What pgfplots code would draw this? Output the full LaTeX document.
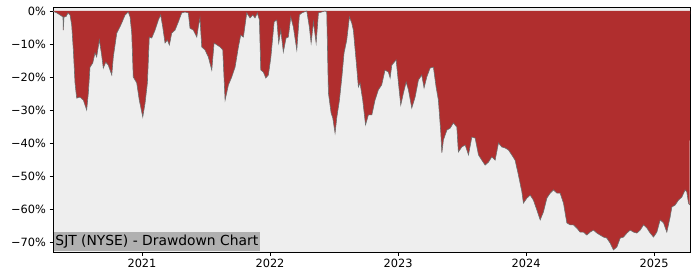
\documentclass[border=0pt]{standalone}
\usepackage{fontspec}
\setmainfont{DejaVu Sans}
\usepackage{pgfplots}
\usepackage{pgfplotstable}
\pgfplotsset{compat=1.18}
\definecolor{ddred}{RGB}{176,46,46}
\definecolor{bgcol}{RGB}{238,238,238}
\definecolor{lblgray}{RGB}{176,176,176}
\definecolor{edgegray}{RGB}{110,110,110}
\pgfplotstableread{
x y
2020.305 0
2020.313 -0.2
2020.336 -0.6
2020.360 -1.2
2020.383 -1.8
2020.385 -5.8
2020.391 -1.8
2020.407 -1.7
2020.422 -0.6
2020.438 -1.2
2020.451 -4.2
2020.464 -11.8
2020.477 -21.8
2020.490 -26.4
2020.516 -26.1
2020.542 -27.0
2020.568 -30.0
2020.581 -24.8
2020.594 -17.0
2020.615 -15.8
2020.633 -12.7
2020.646 -13.9
2020.667 -8.8
2020.685 -13.3
2020.698 -17.3
2020.717 -15.5
2020.737 -16.4
2020.764 -19.4
2020.776 -13.9
2020.803 -6.7
2020.828 -4.8
2020.842 -3.6
2020.868 -1.2
2020.893 -0.3
2020.907 -1.8
2020.920 -6.7
2020.932 -20.0
2020.959 -21.8
2020.979 -27.0
2021.006 -32.1
2021.024 -27.9
2021.042 -21.8
2021.057 -7.9
2021.076 -8.2
2021.102 -5.8
2021.128 -2.7
2021.146 -1.2
2021.162 -4.8
2021.180 -9.7
2021.198 -8.8
2021.214 -10.3
2021.232 -6.7
2021.258 -5.8
2021.284 -3.3
2021.310 -0.6
2021.336 -0.3
2021.362 -0.6
2021.375 -5.2
2021.401 -5.8
2021.428 -7.9
2021.440 -4.8
2021.453 -2.1
2021.467 -10.9
2021.492 -11.8
2021.518 -13.9
2021.545 -17.9
2021.563 -9.7
2021.586 -10.3
2021.610 -10.9
2021.631 -11.8
2021.649 -27.0
2021.675 -22.4
2021.701 -20.0
2021.727 -17.0
2021.753 -10.9
2021.771 -7.3
2021.792 -7.9
2021.818 -0.6
2021.844 -2.1
2021.865 -1.2
2021.883 -2.1
2021.901 -0.6
2021.917 -2.7
2021.928 -17.9
2021.948 -18.5
2021.967 -20.3
2021.987 -19.4
2022.006 -14.2
2022.032 -3.3
2022.053 -2.7
2022.068 -9.7
2022.084 -5.8
2022.104 -12.4
2022.125 -8.2
2022.143 -7.9
2022.162 -1.8
2022.182 -4.8
2022.209 -11.8
2022.229 -1.2
2022.248 -0.6
2022.266 -0.3
2022.287 0
2022.307 -4.8
2022.321 -9.7
2022.339 -3.3
2022.360 -9.7
2022.378 -0.6
2022.404 -0.3
2022.430 0
2022.443 -0.3
2022.456 -24.8
2022.477 -30.9
2022.490 -32.4
2022.508 -37.0
2022.522 -32.1
2022.542 -27.0
2022.561 -20.0
2022.578 -12.7
2022.599 -8.8
2022.620 -1.8
2022.638 -3.6
2022.651 -5.8
2022.677 -17.0
2022.690 -23.0
2022.703 -21.8
2022.724 -27.0
2022.746 -34.5
2022.768 -31.5
2022.795 -31.5
2022.820 -27.0
2022.846 -23.9
2022.872 -22.4
2022.898 -17.9
2022.924 -18.5
2022.938 -20.3
2022.951 -16.4
2022.985 -14.8
2023.003 -21.8
2023.021 -28.5
2023.042 -24.8
2023.063 -21.5
2023.081 -23.9
2023.107 -29.4
2023.133 -26.1
2023.159 -20.9
2023.185 -19.4
2023.203 -23.3
2023.224 -20.0
2023.250 -17.3
2023.276 -17.0
2023.297 -23.0
2023.315 -27.0
2023.334 -37.0
2023.342 -43.0
2023.354 -39.1
2023.381 -36.1
2023.407 -35.5
2023.432 -33.9
2023.459 -35.2
2023.471 -42.7
2023.498 -41.2
2023.524 -40.6
2023.550 -43.6
2023.576 -38.2
2023.602 -38.5
2023.628 -43.6
2023.654 -45.2
2023.680 -46.7
2023.706 -45.8
2023.732 -44.2
2023.758 -45.2
2023.784 -40.0
2023.810 -41.2
2023.836 -41.5
2023.862 -42.1
2023.888 -43.6
2023.914 -45.2
2023.940 -49.7
2023.967 -54.8
2023.979 -58.2
2024.006 -56.7
2024.032 -55.8
2024.057 -57.3
2024.084 -60.3
2024.110 -63.3
2024.135 -60.9
2024.162 -56.7
2024.188 -55.2
2024.214 -54.2
2024.240 -55.2
2024.266 -55.2
2024.292 -58.2
2024.318 -64.2
2024.344 -64.8
2024.370 -64.8
2024.396 -65.8
2024.422 -67.0
2024.448 -67.0
2024.474 -67.9
2024.500 -67.0
2024.526 -66.4
2024.553 -67.3
2024.578 -67.9
2024.604 -68.5
2024.630 -68.8
2024.656 -70.3
2024.682 -72.4
2024.709 -71.5
2024.735 -68.8
2024.761 -68.5
2024.787 -67.3
2024.813 -66.4
2024.839 -67.0
2024.865 -67.3
2024.891 -66.4
2024.917 -64.8
2024.944 -65.8
2024.969 -67.3
2024.995 -68.5
2025.021 -67.0
2025.047 -63.3
2025.073 -64.2
2025.099 -67.0
2025.125 -62.4
2025.138 -59.4
2025.164 -58.8
2025.190 -57.3
2025.216 -56.4
2025.242 -54.2
2025.255 -54.8
2025.268 -58.2
2025.277 -58.8
}\dd
\begin{document}
\begin{tikzpicture}
\path[use as bounding box] (-53bp,-28bp) rectangle (647bp,252bp);
\begin{axis}[
  at={(0,0)}, anchor=south west,
  scale only axis, width=637bp, height=245bp,
  xmin=2020.305, xmax=2025.28, ymin=-73.03, ymax=1.21,
  axis background/.style={fill=bgcol},
  axis line style={line width=0.8bp, black},
  xtick={2021,2022,2023,2024,2025},
  xticklabels={2021,2022,2023,2024,2025},
  ytick={-70,-60,-50,-40,-30,-20,-10,0},
  yticklabels={−70\%,−60\%,−50\%,−40\%,−30\%,−20\%,−10\%,0\%},
  tick pos=left, tick align=outside,
  major tick length=3.5bp,
  tick style={line width=0.8bp, black},
  ticklabel style={font=\fontsize{11.4}{13}\selectfont},
  xticklabel style={yshift=-0.5bp},
  clip=true,
]
\addplot[fill=ddred, draw=none] table {\dd} -- (axis cs:2025.28,0) -- (axis cs:2020.305,0) -- cycle;
\addplot[edgegray, line width=0.6bp] table {\dd};
\node[fill=lblgray, anchor=south west, inner xsep=1.5bp, inner ysep=0bp,
  minimum height=19bp, font=\fontsize{13.9}{15}\selectfont, xshift=0.8bp, yshift=0.4bp]
  at (axis description cs:0,0) {SJT (NYSE) - Drawdown Chart};
\end{axis}
\end{tikzpicture}
\end{document}
